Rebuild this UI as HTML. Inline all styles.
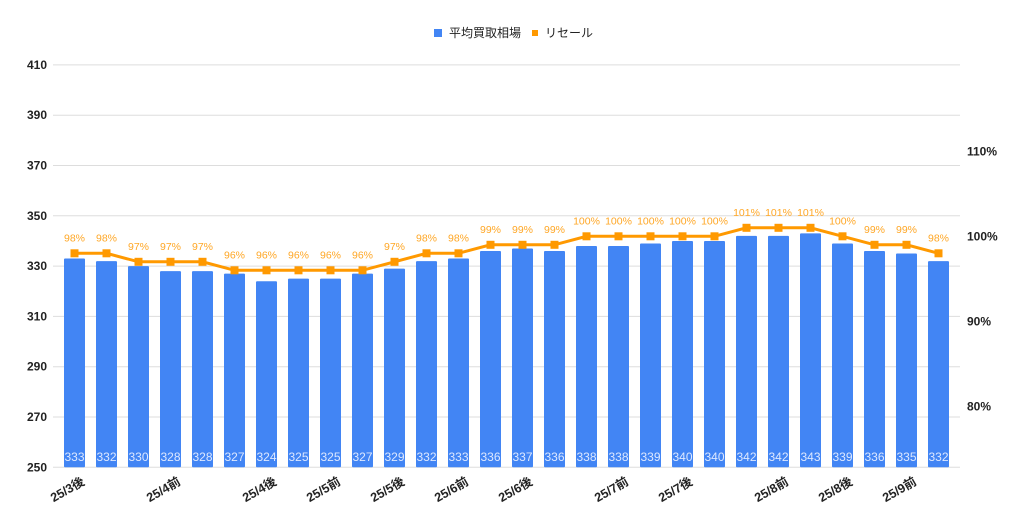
<!DOCTYPE html>
<html><head><meta charset="utf-8"><style>body{margin:0;background:#fff}svg{display:block}</style></head><body>
<svg width="1024" height="524" xmlns="http://www.w3.org/2000/svg" font-family="Liberation Sans, Noto Sans CJK JP, sans-serif">
<rect x="434" y="29" width="8" height="8" fill="#4285f4"/>
<text x="449" y="37" font-size="12" fill="#222">平均買取相場</text>
<rect x="532" y="30" width="6" height="6" fill="#ff9900"/>
<text x="545" y="37" font-size="12" fill="#222">リセール</text>
<g id="g"></g>
</svg>
<script>
const bars=[333,332,330,328,328,327,324,325,325,327,329,332,333,336,337,336,338,338,339,340,340,342,342,343,339,336,335,332];
const pct=[98,98,97,97,97,96,96,96,96,96,97,98,98,99,99,99,100,100,100,100,100,101,101,101,100,99,99,98];
const labels={0:"25/3後",3:"25/4前",6:"25/4後",8:"25/5前",10:"25/5後",12:"25/6前",14:"25/6後",17:"25/7前",19:"25/7後",22:"25/8前",24:"25/8後",26:"25/9前"};
const Y=v=>467.3-(v-250)*2.515, P=p=>236.3-(p-100)*8.5;
let s="";
for(let v=250;v<=410;v+=20){const y=Y(v);s+=`<line x1="53" x2="960" y1="${y}" y2="${y}" stroke="#ddd" stroke-width="1"/><text x="47" y="${y+4}" font-size="12" font-weight="bold" text-anchor="end" fill="#222">${v}</text>`;}
[80,90,100,110].forEach(p=>{s+=`<text x="967" y="${P(p)+4}" font-size="12" font-weight="bold" fill="#222">${p}%</text>`});
let pts=[];
bars.forEach((b,i)=>{const x=64+32*i,c=x+10.5;s+=`<rect x="${x}" y="${Y(b)}" width="21" height="${467.3-Y(b)}" fill="#4285f4" rx="1"/><text x="${c}" y="461" font-size="12" fill="#dde8ff" text-anchor="middle">${b}</text>`;pts.push(c+","+P(pct[i]));
if(labels[i]!==undefined)s+=`<text transform="translate(${c+11},484) rotate(-30)" font-size="12.5" font-weight="bold" text-anchor="end" fill="#222">${labels[i]}</text>`;});
s+=`<polyline points="${pts.join(" ")}" fill="none" stroke="#ff9900" stroke-width="3"/>`;
pct.forEach((p,i)=>{const c=74.5+32*i,y=P(p);s+=`<rect x="${c-4}" y="${y-4}" width="8" height="8" fill="#ff9900"/><text x="${c}" y="${y-12}" font-size="10.5" fill="#ffa726" text-anchor="middle">${p}%</text>`;});
document.getElementById("g").innerHTML=s;
</script>
</body></html>
